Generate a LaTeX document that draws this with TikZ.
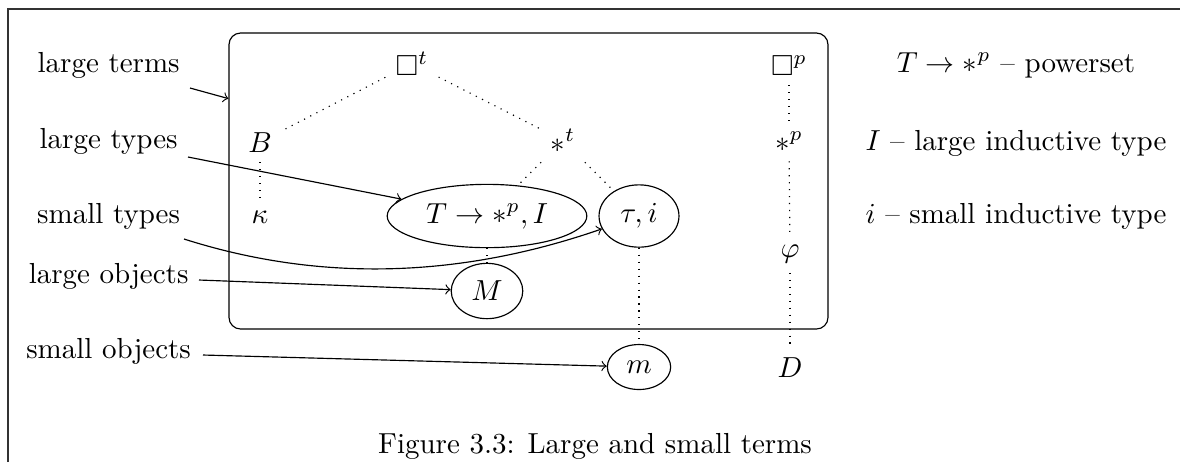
\documentclass[tikz,border=0pt]{standalone}
\usepackage{amssymb}
\usetikzlibrary{shapes.geometric,fit}
\begin{document}
\begin{tikzpicture}[x=0.345pt,y=-0.345pt,
  lbl/.style={anchor=base, inner sep=0pt},
  term/.style={anchor=base},
  oval/.style={draw, ellipse},
  link/.style={dotted},
  pointer/.style={->},
  frameline/.style={draw=black!80, line width=0.4pt}]
\useasboundingbox (0,0) rectangle (1180,462);
% outer frame (cropped)
\draw[frameline] (8,462) -- (8,9) -- (1180,9);
% big rounded box
\node[fit={(229,33) (828,329)}, inner sep=0pt, draw, rounded corners=4pt] (box) {};
% terms
\node[term] (boxt) at (412,75) {$\square^t$};
\node[term] (B) at (260,152) {$B$};
\node[term] (st) at (563,152) {$*^t$};
\node[term] (boxp) at (789,75) {$\square^p$};
\node[term] (sp) at (789,151) {$*^p$};
\node[term] (kappa) at (260,223) {$\kappa$};
\node[oval] (Tp) at (487,216) {$T\to *^p, I$};
\node[oval] (tau) at (639,216) {$\tau, i$};
\node[term] (phi) at (790,257) {$\varphi$};
\node[oval] (M) at (487,291) {$M$};
\node[oval] (m) at (639,367) {$m$};
\node[term] (D) at (790,377) {$D$};
% dotted links
\draw[link] (boxt) -- (B);
\draw[link] (boxt) -- (st);
\draw[link] (B) -- (kappa);
\draw[link] (st) -- (Tp);
\draw[link] (st) -- (tau);
\draw[link] (Tp) -- (M);
\draw[link] (tau) -- (m);
\draw[link] (boxp) -- (sp);
\draw[link] (sp) -- (phi);
\draw[link] (phi) -- (D);
% left labels
\node[lbl] (lterms) at (108.6,72) {large terms};
\node[lbl] (ltypes) at (108.6,148) {large types};
\node[lbl] (stypes) at (108.6,223) {small types};
\node[lbl] (lobj) at (108.6,283) {large objects};
\node[lbl] (sobj) at (108.6,358) {small objects};
\coordinate (c1) at (190,88);
\coordinate (c2) at (188,157);
\coordinate (c3) at (184,239);
\coordinate (c4) at (199,280);
\coordinate (c5) at (203,355);
\draw[pointer] (c1) -- (box);
\draw[pointer] (c2) -- (Tp);
\draw[pointer] (c3) .. controls (300,276) and (440,285) .. (tau);
\draw[pointer] (c4) -- (M);
\draw[pointer] (c5) -- (m);
% right column
\node[lbl] (r1) at (1016,72) {$T\to *^p$ -- powerset};
\node[lbl] (r2) at (1016,150) {$I$ -- large inductive type};
\node[lbl] (r3) at (1016,223) {$i$ -- small inductive type};
% caption
\node[lbl] (cap) at (595,453) {Figure 3.3: Large and small terms};
\end{tikzpicture}
\end{document}
